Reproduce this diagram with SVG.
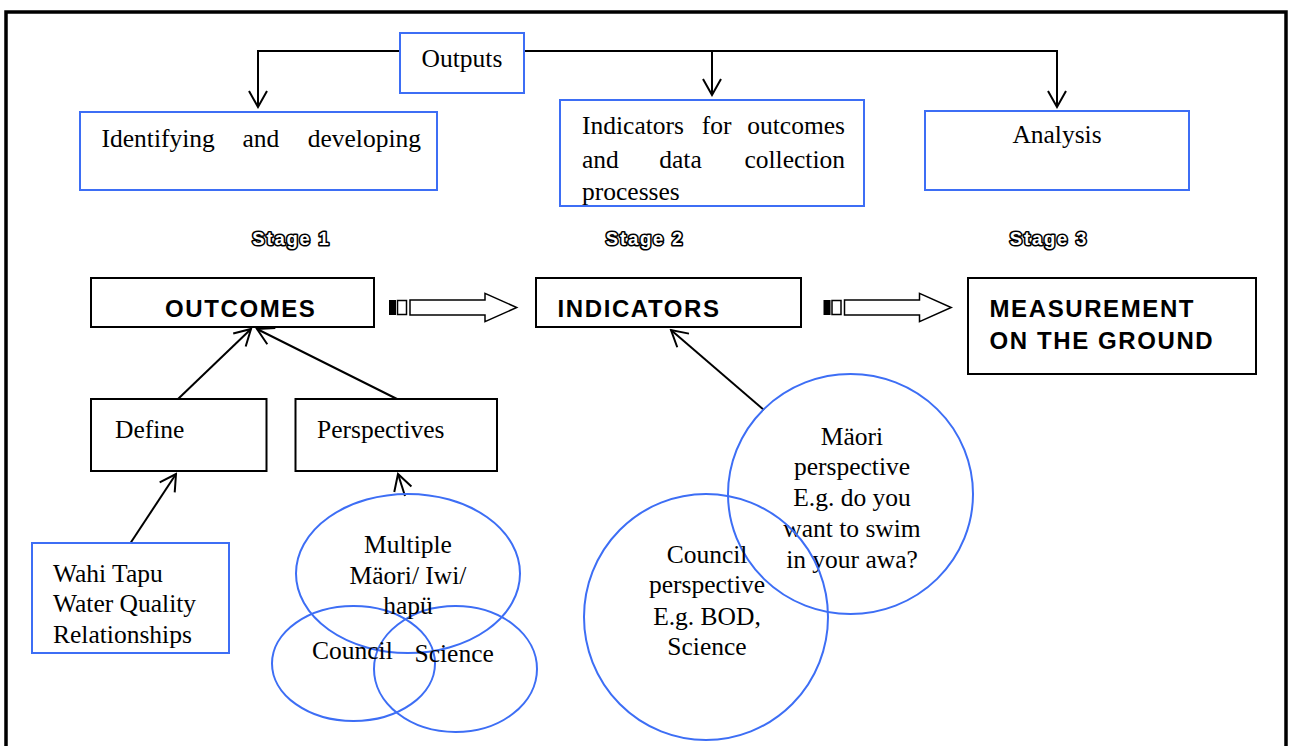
<svg xmlns="http://www.w3.org/2000/svg" width="1294" height="746" viewBox="0 0 1294 746">
<defs>
<style>
.bbox{fill:#fff;stroke:#3d6ef5;stroke-width:2}
.kbox{fill:#fff;stroke:#000;stroke-width:2}
.ell{fill:none;stroke:#3d6ef5;stroke-width:2}
.serif{font-family:"Liberation Serif","Times New Roman",serif;font-size:25.5px;fill:#000}
.bold{font-family:"Liberation Sans",Arial,sans-serif;font-size:24px;font-weight:bold;fill:#000;letter-spacing:1.6px}
.stage{font-family:"Liberation Sans",Arial,sans-serif;font-size:18.5px;font-weight:bold;fill:#fff;stroke:#000;stroke-width:3.2;paint-order:stroke;letter-spacing:1.8px;stroke-linejoin:round}
.conn{fill:none;stroke:#000;stroke-width:2}
.blk{fill:#fff;stroke:#000;stroke-width:1.5}
</style>
<marker id="v" viewBox="0 0 20 20" refX="18" refY="10" markerWidth="20" markerHeight="20" markerUnits="userSpaceOnUse" orient="auto">
<path d="M2,1 L18,10 L2,19" fill="none" stroke="#000" stroke-width="2"/>
</marker>
<g id="blockarrow">
<rect x="0" y="-7.5" width="7" height="15" fill="#000"/>
<rect x="8.5" y="-7" width="9" height="14" class="blk"/>
<path d="M21,-7.5 H96 V-14.2 L127.7,0 L96,14.2 V7.5 H21 Z" class="blk"/>
</g>
</defs>
<rect x="0" y="0" width="1294" height="746" fill="#fff"/>
<rect x="6" y="12" width="1280" height="745" fill="none" stroke="#000" stroke-width="3.5"/>

<g id="connectors">
<path class="conn" d="M400,51 H258 V107" marker-end="url(#v)"/>
<path class="conn" d="M524,51 H1057 V107" marker-end="url(#v)"/>
<path class="conn" d="M712,51 V95" marker-end="url(#v)"/>
<line class="conn" x1="178" y1="399" x2="251" y2="329" marker-end="url(#v)"/>
<line class="conn" x1="397" y1="399" x2="257" y2="329" marker-end="url(#v)"/>
<line class="conn" x1="130.5" y1="543" x2="176" y2="474" marker-end="url(#v)"/>
<line class="conn" x1="405" y1="496" x2="398" y2="474" marker-end="url(#v)"/>
<line class="conn" x1="764" y1="410" x2="671" y2="330" marker-end="url(#v)"/>
<use href="#blockarrow" x="389" y="307.5"/>
<use href="#blockarrow" x="823.5" y="307.5"/>
</g>

<g id="outputs">
<rect class="bbox" x="400" y="33" width="124" height="60"/>
<text class="serif" x="462" y="67" text-anchor="middle">Outputs</text>
</g>
<g id="identifying">
<rect class="bbox" x="80" y="112" width="357" height="78"/>
<text class="serif" x="101.5" y="147">Identifying</text>
<text class="serif" x="242.5" y="147">and</text>
<text class="serif" x="421" y="147" text-anchor="end">developing</text>
</g>
<g id="indicators-out">
<rect class="bbox" x="560" y="100" width="304" height="106"/>
<text class="serif" x="582" y="134">Indicators</text>
<text class="serif" x="701.7" y="134">for</text>
<text class="serif" x="845" y="134" text-anchor="end">outcomes</text>
<text class="serif" x="582" y="168">and</text>
<text class="serif" x="659.3" y="168">data</text>
<text class="serif" x="845" y="168" text-anchor="end">collection</text>
<text class="serif" x="582" y="200">processes</text>
</g>
<g id="analysis">
<rect class="bbox" x="925" y="111" width="264" height="79"/>
<text class="serif" x="1057" y="143" text-anchor="middle">Analysis</text>
</g>

<g id="stages">
<text class="stage" x="291.5" y="245" text-anchor="middle">Stage 1</text>
<text class="stage" x="645" y="245" text-anchor="middle">Stage 2</text>
<text class="stage" x="1049" y="245" text-anchor="middle">Stage 3</text>
</g>

<g id="outcomes">
<rect class="kbox" x="91" y="278" width="283" height="49"/>
<text class="bold" x="165" y="317">OUTCOMES</text>
</g>
<g id="indicators">
<rect class="kbox" x="536" y="278" width="265" height="49"/>
<text class="bold" x="557.5" y="317">INDICATORS</text>
</g>
<g id="measurement">
<rect class="kbox" x="968" y="278" width="288" height="96"/>
<text class="bold" x="989.5" y="317">MEASUREMENT</text>
<text class="bold" x="989.5" y="349">ON THE GROUND</text>
</g>

<g id="define">
<rect class="kbox" x="91" y="399" width="175.5" height="72"/>
<text class="serif" x="115" y="438">Define</text>
</g>
<g id="perspectives">
<rect class="kbox" x="295.5" y="399" width="201.5" height="72"/>
<text class="serif" x="317" y="438">Perspectives</text>
</g>

<g id="wahi">
<rect class="bbox" x="32" y="543" width="197" height="110"/>
<text class="serif" x="53" y="582">Wahi Tapu</text>
<text class="serif" x="53" y="612">Water Quality</text>
<text class="serif" x="53" y="643">Relationships</text>
</g>

<g id="venn">
<ellipse class="ell" cx="408" cy="573.5" rx="112" ry="79.5"/>
<ellipse class="ell" cx="353.5" cy="663.5" rx="81.5" ry="57.5"/>
<ellipse class="ell" cx="455.5" cy="669" rx="81.5" ry="63"/>
<text class="serif" x="408" y="553" text-anchor="middle">Multiple</text>
<text class="serif" x="408" y="584" text-anchor="middle">Mäori/ Iwi/</text>
<text class="serif" x="408" y="614" text-anchor="middle">hapü</text>
<text class="serif" x="312" y="659">Council</text>
<text class="serif" x="414.5" y="662">Science</text>
</g>

<g id="maori">
<ellipse class="ell" cx="850.5" cy="494" rx="122.5" ry="120"/>
<text class="serif" x="852" y="445" text-anchor="middle">Mäori</text>
<text class="serif" x="852" y="475" text-anchor="middle">perspective</text>
<text class="serif" x="852" y="506" text-anchor="middle">E.g. do you</text>
<text class="serif" x="852" y="537" text-anchor="middle">want to swim</text>
<text class="serif" x="852" y="568" text-anchor="middle">in your awa?</text>
</g>
<g id="council">
<ellipse class="ell" cx="706" cy="617" rx="122" ry="123"/>
<text class="serif" x="707" y="563" text-anchor="middle">Council</text>
<text class="serif" x="707" y="593" text-anchor="middle">perspective</text>
<text class="serif" x="707" y="625" text-anchor="middle">E.g. BOD,</text>
<text class="serif" x="707" y="655" text-anchor="middle">Science</text>
</g>
</svg>
